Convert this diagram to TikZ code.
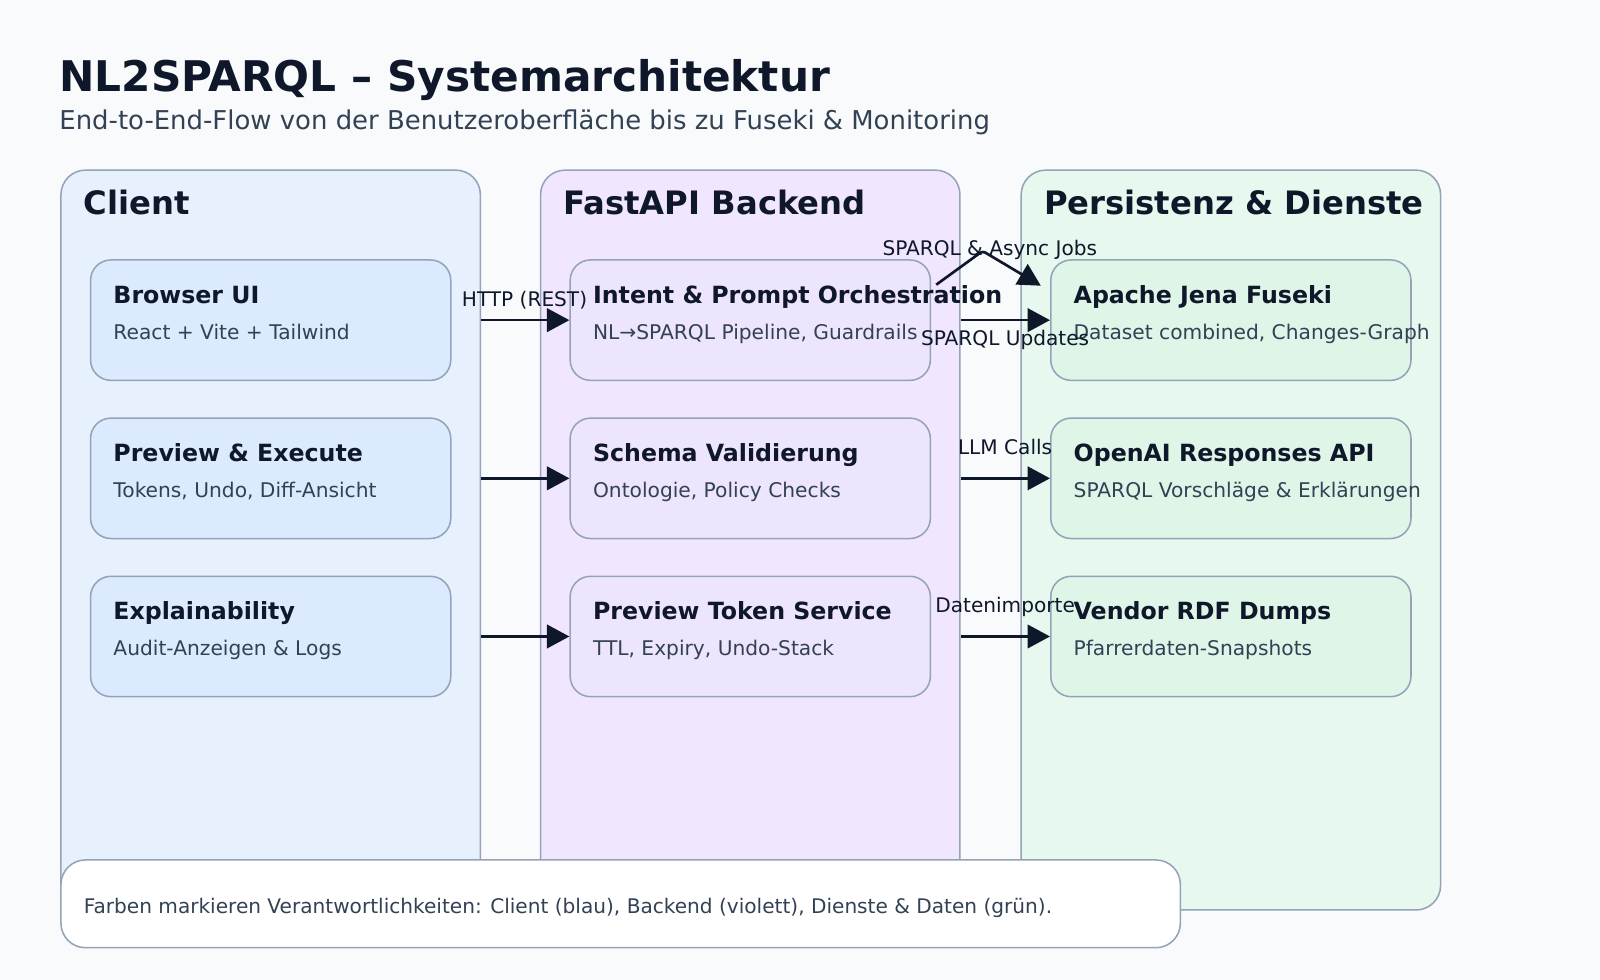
\documentclass[tikz,border=0pt]{standalone}
\usepackage{fontspec}
\setmainfont{DejaVu Sans}
\usetikzlibrary{arrows.meta,calc}
\definecolor{bg}{HTML}{F8FAFC}
\definecolor{ink}{HTML}{0F172A}
\definecolor{sub}{HTML}{334155}
\definecolor{edge}{HTML}{94A3B8}
\definecolor{colC}{HTML}{E6F1FD}
\definecolor{boxC}{HTML}{DBEAFE}
\definecolor{colB}{HTML}{F0E7FE}
\definecolor{boxB}{HTML}{EDE4FE}
\definecolor{colP}{HTML}{E7F8EE}
\definecolor{boxP}{HTML}{DFF5E7}
\tikzset{
  column/.style={draw=edge, line width=1.5pt, rounded corners=24pt, minimum width=411pt, minimum height=725pt, anchor=north west, inner sep=0pt},
  card/.style={draw=edge, line width=1.5pt, rounded corners=20pt, minimum width=353pt, minimum height=118pt, anchor=north west, inner sep=0pt},
  txt/.style={anchor=base west, inner sep=0pt},
  coltitle/.style={txt, text=ink, font=\fontsize{31.6}{36}\selectfont\bfseries},
  cardtitle/.style={txt, text=ink, font=\fontsize{23.2}{28}\selectfont\bfseries},
  cardsub/.style={txt, text=sub, font=\fontsize{19.8}{23}\selectfont},
  lbl/.style={anchor=base, inner sep=0pt, text=ink, font=\fontsize{19.7}{23}\selectfont},
  arr/.style={draw=ink, line width=2.6pt, -{Triangle[length=22pt,width=23pt]}},
}
\begin{document}
\begin{tikzpicture}[x=1pt,y=-1pt]
\useasboundingbox[fill=bg] (0,0) rectangle (1568,960);
% title
\node[txt, text=ink, font=\fontsize{41.4}{48}\selectfont\bfseries] (title) at (58,90) {NL2SPARQL – Systemarchitektur};
\node[txt, text=sub, font=\fontsize{25.4}{30}\selectfont] (subtitle) at (58,127) {End-to-End-Flow von der Benutzeroberfläche bis zu Fuseki \& Monitoring};
% columns
\node[column, fill=colC] (cC) at (59,166) {};
\node[column, fill=colB] (cB) at (529,166) {};
\node[column, fill=colP] (cP) at (1000,166) {};
\node[coltitle] (tC) at ($(cC.north west)+(23,44)$) {Client};
\node[coltitle] (tB) at ($(cB.north west)+(23,44)$) {FastAPI Backend};
\node[coltitle] (tP) at ($(cP.north west)+(23,44)$) {Persistenz \& Dienste};
% cards
\foreach \nm/\x/\y/\f in {c1/88/254/boxC, c2/88/409/boxC, c3/88/564/boxC,
                          b1/558/254/boxB, b2/558/409/boxB, b3/558/564/boxB,
                          p1/1029/254/boxP, p2/1029/409/boxP, p3/1029/564/boxP}
  \node[card, fill=\f] (\nm) at (\x,\y) {};
\newcommand\cardtext[3]{%
  \node[cardtitle] (#1t) at ($(#1.north west)+(23,43)$) {#2};
  \node[cardsub] (#1s) at ($(#1.north west)+(23,78.5)$) {#3};}
\cardtext{c1}{Browser UI}{React + Vite + Tailwind}
\cardtext{c2}{Preview \& Execute}{Tokens, Undo, Diff-Ansicht}
\cardtext{c3}{Explainability}{Audit-Anzeigen \& Logs}
\cardtext{b1}{Intent \& Prompt Orchestration}{NL→SPARQL Pipeline, Guardrails}
\cardtext{b2}{Schema Validierung}{Ontologie, Policy Checks}
\cardtext{b3}{Preview Token Service}{TTL, Expiry, Undo-Stack}
\cardtext{p1}{Apache Jena Fuseki}{Dataset combined, Changes-Graph}
\cardtext{p2}{OpenAI Responses API}{SPARQL Vorschläge \& Erklärungen}
\cardtext{p3}{Vendor RDF Dumps}{Pfarrerdaten-Snapshots}
% arrows client -> backend
\draw[arr] (c1.east -| cC.east) -- (b1.west);
\draw[arr] (c2.east -| cC.east) -- (b2.west);
\draw[arr] (c3.east -| cC.east) -- (b3.west);
% arrows backend -> services
\draw[arr] (b1.east -| cB.east) -- (p1.west);
\draw[arr] (b2.east -| cB.east) -- (p2.west);
\draw[arr] (b3.east -| cB.east) -- (p3.west);
% labels
\node[lbl] (l1) at (514,300) {HTTP (REST)};
\node[lbl] (l2) at (985,339) {SPARQL Updates};
\node[lbl] (l3) at (985,445) {LLM Calls};
\node[lbl] (l4) at (985,600) {Datenimporte};
\node[lbl] (l5) at (970,250) {SPARQL \& Async Jobs};
% async jobs connector
\coordinate (jS) at ($(b1.north east)+(5,25)$);
\coordinate (jP) at (963,246);
\coordinate (jE) at ($(p1.north west)+(-9,26)$);
\draw[arr, rounded corners=3pt] (jS) -- (jP) -- (jE);
% footer
\node[draw=edge, line width=1.5pt, fill=white, rounded corners=24pt, minimum width=1097pt, minimum height=86pt, anchor=north west, inner sep=0pt] (foot) at (59,842) {};
\node[txt, text=sub, font=\fontsize{19.7}{23}\selectfont] (foottext) at ($(foot.north west)+(23,53)$) {Farben markieren Verantwortlichkeiten: Client (blau), Backend (violett), Dienste \& Daten (grün).};
\end{tikzpicture}
\end{document}
